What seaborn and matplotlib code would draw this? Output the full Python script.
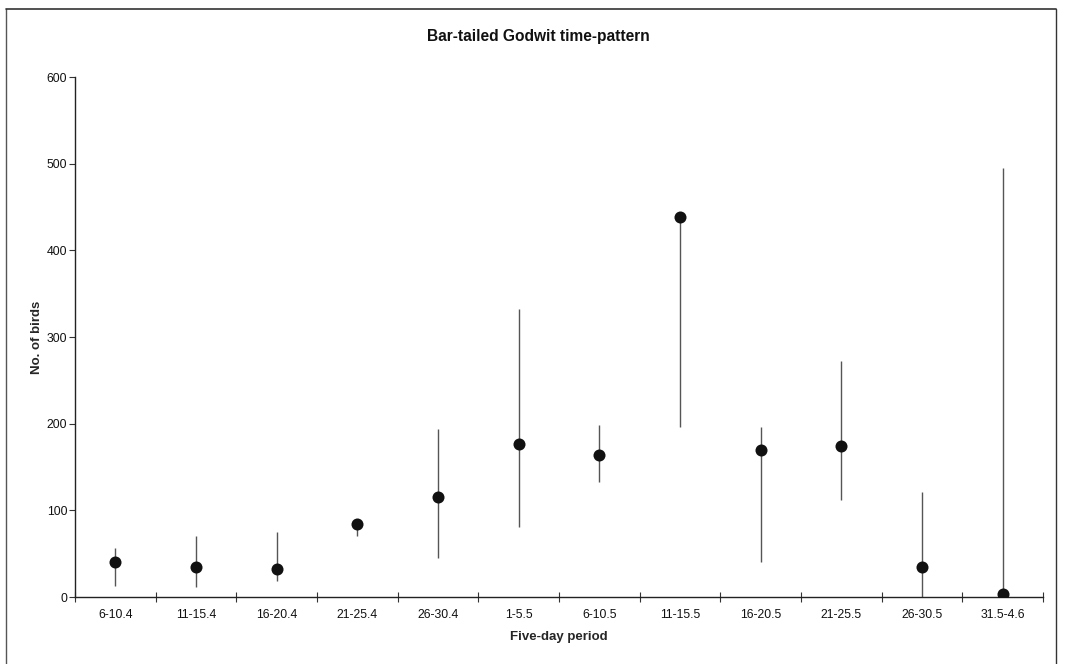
import matplotlib
matplotlib.use('Agg')
import matplotlib.pyplot as plt
from matplotlib.lines import Line2D
from matplotlib.ticker import MultipleLocator, FixedLocator

import pandas as pd
import seaborn as sns


# five-day periods and counts
periods = ['6-10.4', '11-15.4', '16-20.4', '21-25.4', '26-30.4', '1-5.5',
           '6-10.5', '11-15.5', '16-20.5', '21-25.5', '26-30.5', '31.5-4.6']
mean_birds = [40, 35, 32, 84, 115, 177, 164, 439, 170, 174, 35, 3]
low_birds = [13, 12, 19, 70, 45, 81, 133, 196, 40, 112, 0, 0]
high_birds = [56, 70, 75, 88, 194, 332, 199, 439, 196, 272, 121, 495]

sns.set_theme(style='white')
plt.rcParams['font.family'] = ['Liberation Sans', 'DejaVu Sans']

df = pd.DataFrame({'period': periods, 'birds': mean_birds,
                   'low': low_birds, 'high': high_birds})

fig = plt.figure(figsize=(10.76, 6.64), dpi=100)
ax = fig.add_axes([75 / 1076, 1 - 597 / 664, (1043 - 75) / 1076, (597 - 77) / 664])

# range lines first, dots on top
ax.vlines(range(len(periods)), df['low'], df['high'], color='#555555', linewidth=1.0, zorder=2)
sns.scatterplot(data=df, x='period', y='birds', ax=ax, color='#111111', s=75,
                edgecolor='#111111', linewidth=0, zorder=3, legend=False)

ax.set_xlim(-0.5, len(periods) - 0.5)
ax.set_ylim(0, 600)
ax.yaxis.set_major_locator(MultipleLocator(100))
ax.xaxis.set_major_locator(FixedLocator(range(len(periods))))
ax.set_xticklabels(periods)
ax.xaxis.set_minor_locator(FixedLocator([i - 0.5 for i in range(len(periods) + 1)]))

ax.tick_params(axis='x', which='major', length=0, labelsize=8.8, pad=9, colors='#111111')
ax.tick_params(axis='x', which='minor', direction='inout', length=7, width=0.8, color='#333333', bottom=True)
ax.tick_params(axis='y', which='major', direction='out', length=4, width=0.8, labelsize=8.8,
               color='#333333', labelcolor='#111111', left=True, pad=1.5)

for side in ['top', 'right']:
    ax.spines[side].set_visible(False)
for side in ['left', 'bottom']:
    ax.spines[side].set_color('#222222')
    ax.spines[side].set_linewidth(1.0)

ax.set_xlabel('Five-day period', fontsize=9.5, fontweight='bold', labelpad=7)
ax.set_ylabel('No. of birds', fontsize=9.5, fontweight='bold', labelpad=3)

fig.text(0.5, 1 - 37 / 664, 'Bar-tailed Godwit time-pattern', ha='center', va='center',
         fontsize=11.2, fontweight='bold', color='#111111')

# scanned page frame
fig.add_artist(Line2D([6 / 1076, 6 / 1076], [0, 1 - 9 / 664], transform=fig.transFigure,
                      color='#555555', linewidth=1.0))
fig.add_artist(Line2D([6 / 1076, 1056 / 1076], [1 - 9 / 664, 1 - 9 / 664], transform=fig.transFigure,
                      color='#333333', linewidth=1.2))
fig.add_artist(Line2D([1056 / 1076, 1056 / 1076], [0, 1 - 9 / 664], transform=fig.transFigure,
                      color='#333333', linewidth=1.0))

fig.savefig('out.png', dpi=100, facecolor='white')
plt.close('all')
